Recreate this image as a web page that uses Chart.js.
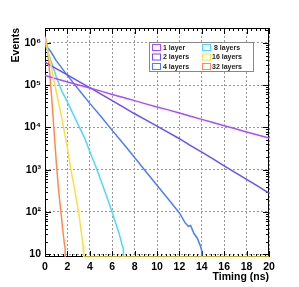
<!DOCTYPE html>
<html>
<head>
<meta charset="utf-8">
<script src="https://cdn.jsdelivr.net/npm/chart.js@4"></script>
<style>
  html, body { margin: 0; padding: 0; background: #fff; }
  #wrap { width: 299px; height: 287px; }
</style>
</head>
<body>
<div id="wrap"><canvas id="timingChart" width="299" height="287"></canvas></div>
<script>
// timing distributions, events per bin (0 = empty bin, drawn on the axis floor)
const t1 = [0, 1, 2, 3, 4, 5, 6, 7, 8, 9, 10, 11, 12, 13, 14, 15, 16, 17, 18, 19, 20];
const n1 = [1.68e5, 1.42e5, 1.19e5, 1.01e5, 8.5e4, 7.2e4, 6.0e4, 5.1e4, 4.3e4, 3.6e4, 3.05e4,
            2.6e4, 2.2e4, 1.83e4, 1.55e4, 1.3e4, 1.1e4, 9.3e3, 7.8e3, 6.6e3, 5.6e3];

const t2 = [0, 1, 2, 3, 4, 5, 6, 7, 8, 9, 10, 11, 12, 13, 14, 15, 16, 17, 18, 19, 20];
const n2 = [3.5e5, 2.45e5, 1.74e5, 1.23e5, 8.7e4, 6.1e4, 4.3e4, 3.0e4, 2.1e4, 1.5e4, 1.07e4,
            7.6e3, 5.4e3, 3.7e3, 2.6e3, 1.8e3, 1.23e3, 850, 590, 410, 280];

const t4 = [0, 0.5, 1, 2, 3, 4, 5, 6, 7, 8, 9, 10, 11, 12, 12.5, 12.8, 13.0, 13.3, 13.6, 13.9, 14.0, 14.0];
const n4 = [8.9e5, 6.3e5, 3.8e5, 1.7e5, 7.9e4, 3.7e4, 1.8e4, 8.5e3, 4.1e3, 1.95e3, 910,
            430, 204, 95, 56, 46, 48, 31, 24, 15, 12, 0];

const t8 = [0, 0.5, 1, 1.5, 2, 2.5, 3, 3.5, 4, 4.5, 5, 5.5, 6, 6.3, 6.6, 6.9, 7.0, 7.0];
const n8 = [9.5e5, 4.0e5, 1.6e5, 7.2e4, 4.0e4, 2.1e4, 1.1e4, 5.9e3, 2.7e3, 1.26e3, 550,
            235, 98, 56, 32, 16, 14, 0];

const t16 = [0, 0.5, 1.0, 1.5, 2.0, 2.3, 2.6, 3.0, 3.2, 3.4, 3.45, 3.45, 20];
const n16 = [1.26e6, 3.2e5, 7.1e4, 1.66e4, 3.3e3, 1.05e3, 400, 100, 40, 16, 14, 0, 0];

const t32 = [0, 0.2, 0.4, 0.6, 0.8, 1.0, 1.2, 1.4, 1.6, 1.75, 1.8, 1.8];
const n32 = [1.41e6, 8.9e5, 2.2e5, 5.0e4, 8.9e3, 1.6e3, 355, 112, 35, 16, 14, 0];

const seriesNames = ['1 layer', '2 layers', '4 layers', '8 layers', '16 layers', '32 layers'];
const seriesColors = ['#aa4dff', '#6b4dff', '#4d7dff', '#4dd8ff', '#ffdd44', '#ff8a4d'];

const xTickLabels = ['0', '2', '4', '6', '8', '10', '12', '14', '16', '18', '20'];
const yTickValues = [10, 100, 1000, 10000, 100000, 1000000];
const yTickLabels = ['10', '10\u00b2', '10\u00b3', '10\u2074', '10\u2075', '10\u2076'];

const Y_MIN = 8.63;
const Y_MAX = 2.24e6;
const FONT = '"Liberation Sans", Arial, sans-serif';

// empty bins sit on the bottom of the frame, like ROOT does on a log axis
function toPoints(ts, ns) {
  return ts.map((t, i) => ({ x: t, y: ns[i] > 0 ? ns[i] : Y_MIN }));
}

const allSeries = [[t1, n1], [t2, n2], [t4, n4], [t8, n8], [t16, n16], [t32, n32]];

// frame, inside ticks, axis titles and the two-column legend, ROOT style
const rootFrame = {
  id: 'rootFrame',
  beforeDatasetsDraw(chart) {
    const { ctx, chartArea: a, scales } = chart;
    const xs = scales.x, ys = scales.y;
    ctx.save();
    ctx.strokeStyle = '#000';
    ctx.lineWidth = 1;
    ctx.strokeRect(a.left + 0.5, a.top + 0.5, a.right - a.left - 1, a.bottom - a.top - 1);

    ctx.beginPath();
    // x ticks: major every 2, minor every 0.4
    for (let i = 0; i <= 50; i++) {
      const v = i * 0.4;
      const px = Math.round(xs.getPixelForValue(v)) + 0.5;
      const len = (i % 5 === 0) ? 6 : 3;
      ctx.moveTo(px, a.bottom); ctx.lineTo(px, a.bottom - len);
      ctx.moveTo(px, a.top); ctx.lineTo(px, a.top + len);
    }
    // y ticks: decades and 2..9 sub-ticks
    for (let d = 0; d <= 6; d++) {
      for (let m = 1; m <= 9; m++) {
        const v = m * Math.pow(10, d);
        if (v < ys.min || v > ys.max) continue;
        const py = Math.round(ys.getPixelForValue(v)) + 0.5;
        const len = (m === 1) ? 6 : 3;
        ctx.moveTo(a.left, py); ctx.lineTo(a.left + len, py);
        ctx.moveTo(a.right, py); ctx.lineTo(a.right - len, py);
      }
    }
    ctx.stroke();
    ctx.restore();
  },
  afterDraw(chart) {
    const { ctx, chartArea: a } = chart;
    ctx.save();
    ctx.fillStyle = '#000';
    ctx.font = 'bold 10.5px ' + FONT;
    ctx.textAlign = 'right';
    ctx.textBaseline = 'alphabetic';
    ctx.fillText('Timing (ns)', a.right, 280);

    ctx.translate(19, a.top);
    ctx.rotate(-Math.PI / 2);
    ctx.fillText('Events', 0, 0);
    ctx.restore();

    // legend box
    ctx.save();
    const bx = 149.5, by = 42.5, bw = 104, bh = 29;
    ctx.fillStyle = '#fff';
    ctx.fillRect(bx, by, bw, bh);
    ctx.strokeStyle = '#888';
    ctx.lineWidth = 1;
    ctx.strokeRect(bx, by, bw, bh);
    ctx.font = 'bold 7px ' + FONT;
    ctx.textBaseline = 'middle';
    ctx.textAlign = 'left';
    const rows = [47.5, 57, 66.5];
    chart.data.datasets.forEach((ds, i) => {
      const col = Math.floor(i / 3), row = i % 3;
      const sx = col === 0 ? 152.5 : 202.5;
      ctx.strokeStyle = ds.borderColor;
      ctx.strokeRect(sx, rows[row] - 3, 8, 6);
      ctx.fillStyle = '#222';
      const tx = col === 0 ? 163 : (ds.label.length < 9 ? 214 : 212);
      ctx.fillText(ds.label, tx, rows[row] + 0.5);
    });
    ctx.restore();
  }
};

const gridOpts = { color: '#999', drawTicks: false, lineWidth: 1 };
const borderOpts = { display: false, dash: [2, 2] };

const timingChart = new Chart(document.getElementById('timingChart'), {
  type: 'line',
  data: {
    datasets: allSeries.map((s, i) => ({
      label: seriesNames[i],
      data: toPoints(s[0], s[1]),
      borderColor: seriesColors[i],
      backgroundColor: seriesColors[i],
      borderWidth: 1.5,
      pointRadius: 0,
      tension: 0,
      fill: false,
      order: i === 4 ? -1 : i
    }))
  },
  options: {
    responsive: false,
    animation: false,
    events: [],
    layout: { padding: { left: 0, top: 28, right: 30, bottom: 0 } },
    scales: {
      x: {
        type: 'linear',
        min: 0,
        max: 20,
        afterFit(scale) { scale.height = 30; },
        afterBuildTicks(scale) {
          scale.ticks = xTickLabels.map(l => ({ value: Number(l) }));
        },
        border: borderOpts,
        grid: gridOpts,
        ticks: {
          padding: 4,
          maxRotation: 0,
          autoSkip: false,
          color: '#000',
          font: { family: FONT, weight: 'bold', size: 10.5 },
          callback: (v) => String(v)
        }
      },
      y: {
        type: 'logarithmic',
        min: Y_MIN,
        max: Y_MAX,
        afterFit(scale) { scale.width = 45; },
        afterBuildTicks(scale) {
          scale.ticks = yTickValues.map(v => ({ value: v }));
        },
        border: borderOpts,
        grid: gridOpts,
        ticks: {
          padding: 4,
          autoSkip: false,
          color: '#000',
          font: { family: FONT, weight: 'bold', size: 10.5 },
          callback: (v) => {
            const k = yTickValues.indexOf(v);
            return k >= 0 ? yTickLabels[k] : '';
          }
        }
      }
    },
    plugins: {
      legend: { display: false },
      tooltip: { enabled: false }
    }
  },
  plugins: [rootFrame]
});
</script>
</body>
</html>
